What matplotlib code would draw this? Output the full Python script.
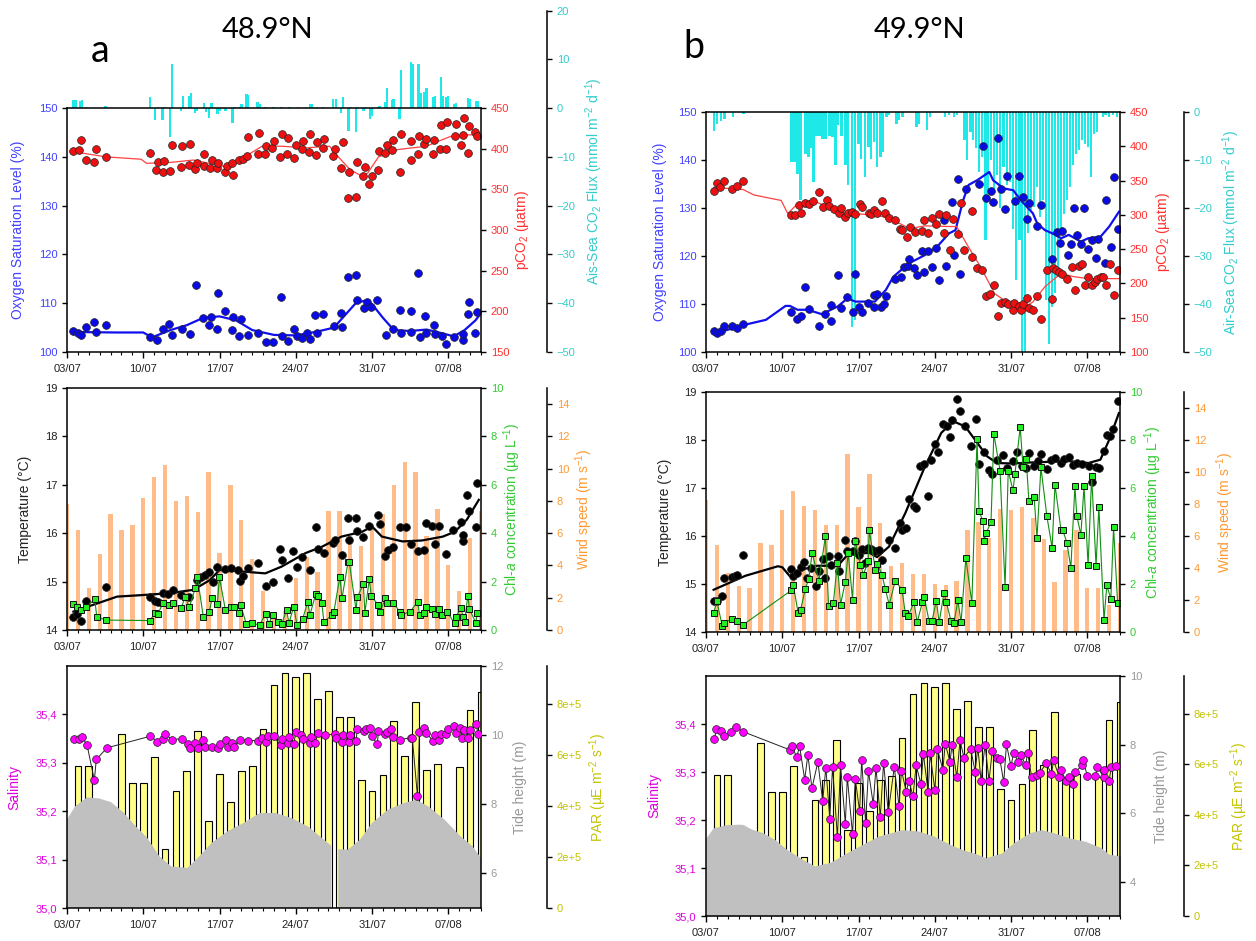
import numpy as np
import matplotlib
matplotlib.use('Agg')
import matplotlib.pyplot as plt
from matplotlib.ticker import MultipleLocator, FuncFormatter

plt.rcParams['font.family'] = ['Liberation Sans', 'DejaVu Sans']
plt.rcParams['mathtext.fontset'] = 'custom'
plt.rcParams['mathtext.rm'] = 'Liberation Sans'
plt.rcParams['mathtext.it'] = 'Liberation Sans:italic'
plt.rcParams['mathtext.default'] = 'regular'
plt.rcParams['axes.linewidth'] = 1.1

W, H = 1256, 941

# ---------------- data (days since 03/07) ----------------
date_ticks = [0, 7, 14, 21, 28, 35]
date_labels = ['03/07', '10/07', '17/07', '24/07', '31/07', '07/08']

# ---- station a, 48.9N ----
o2_a_days = [0.58, 0.98, 1.26, 1.74, 2.5, 2.63, 3.58, 7.6, 8.27, 8.82,
             9.37, 9.63, 10.55, 11.29, 11.88, 12.5, 13.06, 13.25, 13.8, 13.87,
             14.54, 15.17, 15.2, 15.83, 15.94, 16.57, 17.49, 18.23, 18.89, 19.63,
             19.7, 20.26, 20.81, 21.07, 21.55, 21.99, 22.29, 22.8, 22.92, 23.47,
             24.5, 25.17, 25.24, 25.79, 26.53, 26.64, 27.27, 27.5, 27.86, 28.49,
             29.3, 29.96, 30.55, 30.66, 31.59, 31.59, 32.18, 32.36, 32.9, 32.99,
             33.65, 33.8, 34.46, 34.83, 35.5, 36.31, 36.38, 36.8, 36.9, 37.49,
             37.6]
o2_a = [104.4, 103.8, 103.5, 105.1, 106.2, 104.0, 105.5, 103.1, 102.5, 104.8,
        105.8, 103.4, 104.8, 103.7, 113.8, 107.0, 105.5, 107.2, 104.8, 112.1,
        108.4, 104.6, 107.2, 103.2, 106.7, 103.4, 103.9, 102.1, 102.1, 111.2,
        103.2, 102.2, 104.8, 103.2, 102.9, 103.9, 102.7, 107.5, 103.9, 107.7,
        105.3, 107.9, 105.1, 115.4, 115.8, 110.7, 109.1, 110.2, 109.3, 110.6,
        103.4, 104.8, 108.7, 103.9, 108.3, 104.1, 116.2, 103.0, 107.4, 103.9,
        105.6, 103.7, 103.2, 101.6, 103.1, 102.5, 103.6, 107.7, 110.2, 103.9,
        108.2]
o2_a_fit_days = [0.5, 4.5, 7.0, 7.8, 9.5, 11.0, 12.5, 14.0, 15.5, 17.0, 19.0, 21.0, 23.0, 24.5,
                 25.5, 26.5, 27.3, 28.0, 29.0, 30.0, 31.5, 33.0, 34.5, 35.5, 36.5, 37.5, 38.0]
o2_a_fit = [104.1, 104.0, 104.0, 103.0, 104.5, 105.5, 107.0, 107.3, 106.5, 104.5, 103.5, 103.4, 104.2, 105.0,
            107.5, 110.0, 110.5, 109.8, 107.0, 104.5, 104.3, 104.6, 103.8, 103.2, 104.5, 106.5, 108.0]

pco2_a_days = [0.59, 1.14, 1.33, 1.73, 2.47, 2.62, 3.54, 7.60, 8.15, 8.34,
               8.78, 8.86, 9.48, 9.63, 10.48, 10.59, 11.22, 11.33, 11.77, 11.96,
               12.58, 12.58, 13.10, 13.32, 13.80, 13.87, 14.54, 14.72, 15.28, 15.17,
               15.83, 16.20, 16.49, 16.64, 17.49, 17.64, 18.15, 18.23, 18.78, 18.97,
               19.59, 19.70, 20.18, 20.30, 20.81, 21.00, 21.55, 21.66, 22.21, 22.32,
               22.84, 22.95, 23.51, 23.62, 24.43, 24.58, 25.17, 25.35, 25.83, 25.90,
               26.57, 26.61, 27.20, 27.34, 27.75, 27.97, 28.56, 28.60, 29.23, 29.37,
               29.85, 29.93, 30.52, 30.63, 31.55, 31.62, 32.18, 32.32, 32.80, 32.95,
               33.58, 33.69, 34.24, 34.32, 34.76, 34.91, 35.72, 35.65, 36.13, 36.31,
               36.42, 36.79, 36.90, 37.49, 37.64]
pco2_a = [397, 398, 411, 386, 383, 399, 390, 395, 374, 383,
          371, 385, 372, 404, 377, 403, 380, 406, 375, 382,
          393, 379, 376, 386, 376, 382, 371, 379, 368, 382,
          386, 387, 391, 414, 394, 419, 393, 403, 401, 410,
          390, 418, 394, 413, 388, 404, 399, 409, 396, 418,
          392, 408, 401, 412, 391, 400, 376, 408, 339, 371,
          340, 384, 367, 377, 357, 367, 374, 397, 395, 404,
          398, 411, 371, 418, 386, 409, 393, 415, 406, 412,
          393, 411, 399, 429, 400, 433, 430, 416, 404, 417,
          438, 395, 428, 421, 415]
pco2_a_fit_days = [0.3, 3.5, 6.8, 7.3, 9.4, 11.6, 14.5, 16.8, 17.9, 19.7, 21.9, 24.1,
                   24.9, 26.0, 27.1, 27.6, 28.6, 30.4, 33.0, 33.7, 35.2, 36.3, 37.8]
pco2_a_fit = [397, 390, 387, 382, 383, 386, 378, 394, 403, 403, 401, 403,
              390, 374, 366, 370, 390, 399, 403, 407, 415, 417, 417]

flux_a_days = [0.59, 0.77, 1.25, 1.37, 1.73, 3.54, 7.60, 8.08, 8.34, 8.75,
               8.93, 9.45, 9.63, 10.48, 10.66, 11.22, 11.37, 11.77, 11.96, 12.58,
               12.77, 13.06, 13.25, 13.8, 13.99, 14.54, 14.83, 15.2, 15.39, 15.76,
               16.01, 16.46, 16.64, 17.49, 17.68, 18.23, 18.97, 19.7, 20.44, 21.18,
               21.92, 22.29, 22.51, 22.95, 23.51, 24.43, 24.69, 25.17, 25.31, 25.83,
               25.98, 26.53, 26.64, 27.2, 27.34, 27.82, 27.97, 28.56, 28.67, 29.23,
               29.37, 29.85, 29.96, 30.52, 30.63, 31.55, 31.7, 32.25, 32.44, 32.8,
               32.99, 33.58, 33.8, 34.32, 34.46, 34.83, 34.98, 35.57, 35.68, 36.79,
               36.97, 37.53, 37.71]
flux_a = [1.6, 1.6, 1.4, 1.6, 0.2, 0.5, 2.4, -2.4, 0.3, -2.4,
          0.3, -6.0, 9.1, -0.6, 2.5, 2.6, 3.2, -1.0, -0.5, 1.0,
          -0.8, -2.0, 1.0, -1.2, -0.5, -0.5, 0.1, -3.1, 0.2, 0.3,
          0.8, 3.0, 2.7, 1.2, 0.9, 0.2, 0.2, 0.2, 0.2, 0.2,
          0.3, 0.8, 0.9, 0.3, 0.2, 1.9, 1.9, -1.0, 2.4, -4.6,
          0.3, -4.9, 0.3, -0.5, 0.3, -2.2, -1.5, 0.2, 0.5, 1.2,
          4.1, 1.7, 1.9, -2.2, 7.8, 9.5, 9.1, 9.1, 3.1, 3.3,
          4.2, 2.3, 2.5, 6.5, 2.6, 2.3, 2.5, 0.9, 1.0, 2.1,
          1.9, 1.4, 1.4]

temp_a_days = [0.59, 0.89, 1.25, 1.73, 3.54, 7.60, 8.08, 8.34, 8.82, 9.30,
               9.74, 10.48, 11.22, 11.96, 12.32, 12.69, 13.06, 13.43, 13.80, 14.54,
               15.09, 15.65, 15.90, 16.20, 16.57, 17.49, 18.23, 18.89, 19.52, 19.70,
               20.26, 20.74, 21.11, 21.55, 22.29, 22.84, 23.03, 23.58, 24.43, 24.61,
               25.24, 25.79, 25.90, 26.53, 26.61, 27.20, 27.75, 28.56, 28.75, 29.23,
               29.48, 29.96, 30.52, 31.14, 31.59, 32.25, 32.80, 32.99, 33.54, 33.80,
               34.10, 34.83, 35.39, 36.13, 36.31, 36.38, 36.75, 36.90, 37.53, 37.64]
temp_a = [14.26, 14.34, 14.19, 14.59, 14.88, 14.69, 14.59, 14.57, 14.76, 14.74,
          14.83, 14.72, 14.69, 15.03, 15.10, 15.14, 15.19, 15.00, 15.30, 15.26,
          15.28, 15.23, 15.02, 15.12, 15.28, 15.38, 14.90, 15.00, 15.68, 15.45,
          15.07, 15.64, 15.31, 15.50, 15.23, 16.12, 15.67, 15.59, 15.79, 15.86,
          15.54, 16.31, 15.86, 16.32, 16.04, 15.92, 16.14, 16.38, 16.19, 15.53,
          15.66, 15.72, 16.12, 16.12, 15.78, 15.64, 15.66, 16.21, 16.14, 15.78,
          16.14, 15.57, 16.06, 16.24, 15.83, 15.97, 16.78, 16.45, 16.12, 17.03]
temp_a_fit_days = [0.59, 4.6, 6.8, 9.4, 11.6, 13.1, 14.0, 16.0, 18.2, 19.7, 21.9,
                   23.4, 25.2, 27.1, 28.0, 28.9, 30.8, 32.6, 34.5, 35.6, 36.7, 37.8]
temp_a_fit = [14.38, 14.69, 14.72, 14.76, 14.83, 15.03, 15.24, 15.21, 15.17, 15.31, 15.59,
              15.72, 15.93, 16.03, 16.14, 15.93, 15.83, 15.85, 15.93, 16.03, 16.28, 16.69]

chl_a_days = [0.59, 0.89, 1.25, 1.73, 2.55, 2.73, 3.54, 7.60, 8.08, 8.34,
              8.82, 9.37, 9.74, 10.48, 10.85, 11.22, 11.77, 11.96, 12.51, 13.06,
              13.32, 13.80, 13.99, 14.54, 15.09, 15.35, 15.83, 15.94, 16.46, 16.94,
              17.68, 18.23, 18.52, 18.89, 19.34, 19.70, 20.15, 20.37, 20.81, 21.11,
              21.62, 22.10, 22.29, 22.84, 23.03, 23.39, 23.58, 24.32, 24.50, 25.05,
              25.24, 25.79, 25.90, 26.53, 26.64, 27.20, 27.34, 27.75, 27.93, 28.56,
              28.75, 29.23, 29.37, 29.96, 30.52, 30.66, 31.51, 32.18, 32.36, 32.80,
              32.99, 33.54, 33.80, 34.17, 34.39, 34.91, 35.57, 35.68, 36.20, 36.31,
              36.49, 36.79, 36.94, 37.53, 37.64]
chl_a = [1.08, 0.94, 0.83, 0.94, 1.27, 0.55, 0.41, 0.39, 0.69, 0.66,
         1.13, 1.03, 1.10, 0.90, 1.38, 0.94, 1.72, 2.21, 0.55, 0.76,
         1.31, 1.08, 2.17, 0.83, 0.94, 0.94, 0.69, 1.03, 0.25, 0.28,
         0.21, 0.66, 0.25, 0.62, 0.34, 0.23, 0.83, 0.28, 0.97, 0.21,
         0.44, 1.17, 0.62, 1.49, 1.41, 1.10, 0.34, 0.62, 0.76, 2.21,
         1.31, 2.79, 2.83, 0.83, 1.35, 1.89, 0.72, 2.10, 1.41, 1.03,
         0.76, 1.31, 1.13, 1.13, 0.76, 0.62, 0.76, 1.17, 0.62, 0.72,
         0.94, 0.86, 0.66, 0.86, 0.62, 0.73, 0.28, 0.55, 0.90, 0.55,
         0.34, 1.42, 0.86, 0.30, 0.72]

# daily wind speed, 03/07 .. 10/08
wind_a = [7.8, 6.2, 2.6, 4.7, 7.2, 6.2, 6.5, 8.2, 9.5, 10.2,
          8.0, 8.3, 7.3, 9.8, 4.8, 9.0, 6.8, 4.4, 2.4, 1.0,
          1.2, 3.2, 4.5, 3.6, 7.4, 7.4, 5.8, 5.2, 6.4, 7.2,
          9.0, 10.4, 9.8, 5.8, 7.5, 4.0, 2.4, 5.7, 7.4]

sal_a_days = [0.66, 1.11, 1.36, 1.84, 2.51, 2.69, 3.68, 7.66, 8.29, 8.84,
              8.99, 9.65, 10.57, 11.13, 11.31, 11.79, 12.05, 12.45, 12.71, 13.34,
              13.82, 14.0, 14.55, 14.74, 15.18, 15.36, 15.92, 16.58, 17.5, 17.87,
              18.24, 18.42, 18.98, 19.6, 19.71, 20.27, 20.34, 20.82, 21.0, 21.44,
              21.67, 22.29, 22.36, 22.77, 23.03, 23.69, 24.61, 24.69, 25.24, 25.35,
              25.87, 25.98, 26.53, 26.64, 27.27, 27.49, 27.82, 27.97, 28.48, 28.59,
              29.22, 29.4, 29.73, 29.92, 30.58, 31.58, 31.69, 32.17, 32.35, 32.79,
              32.98, 33.6, 33.82, 34.19, 34.34, 34.82, 34.93, 35.48, 35.67, 36.11,
              36.29, 36.48, 36.85, 36.96, 37.58, 37.69]
sal_a = [35.350, 35.350, 35.354, 35.337, 35.264, 35.307, 35.331, 35.355, 35.344, 35.350,
         35.360, 35.348, 35.350, 35.338, 35.331, 35.341, 35.331, 35.347, 35.333, 35.333,
         35.331, 35.339, 35.347, 35.332, 35.341, 35.333, 35.348, 35.346, 35.346, 35.351,
         35.343, 35.355, 35.355, 35.336, 35.350, 35.341, 35.354, 35.339, 35.363, 35.357,
         35.350, 35.341, 35.354, 35.340, 35.361, 35.357, 35.360, 35.351, 35.343, 35.357,
         35.343, 35.357, 35.345, 35.369, 35.366, 35.369, 35.371, 35.355, 35.339, 35.365,
         35.360, 35.363, 35.370, 35.354, 35.348, 35.352, 35.352, 35.231, 35.363, 35.372,
         35.362, 35.345, 35.357, 35.347, 35.359, 35.359, 35.370, 35.377, 35.361, 35.371,
         35.352, 35.368, 35.352, 35.368, 35.381, 35.360]

# high-tide envelope (m); nan = gap in the record
tide_a_days = [0, 0.74, 1.84, 2.95, 4.05, 5.16, 6.26, 7.37, 8.47, 9.58, 11.05, 12.16,
               13.26, 14.74, 16.21, 17.69, 19.16, 20.63, 22.11, 23.58, 24.25, 24.5, 24.9,
               25.79, 26.9, 28.0, 29.48, 30.95, 32.06, 33.16, 34.64, 36.11, 37.21, 38.1]
tide_a = [7.56, 7.94, 8.2, 8.17, 8.06, 7.77, 7.38, 7.03, 6.5, 6.2, 6.16, 6.5,
          6.88, 7.22, 7.46, 7.75, 7.75, 7.6, 7.36, 6.98, 6.8, np.nan, 6.7,
          6.69, 6.98, 7.46, 7.85, 8.04, 8.13, 7.94, 7.56, 7.08, 6.79, 6.4]

# daily PAR, 04/07 .. 10/08 (same record for both panels)
par = [557e3, 557e3, 360e3, 330e3, 685e3, 489e3, 489e3, 593e3, 232e3, 458e3,
       538e3, 695e3, 341e3, 525e3, 417e3, 538e3, 556e3, 704e3, 877e3, 923e3,
       908e3, 923e3, 820e3, 851e3, 748e3, 748e3, 502e3, 459e3, 521e3, 736e3,
       597e3, 807e3, 542e3, 564e3, 150e3, 552e3, 776e3, 846e3]

# ---- station b, 49.9N ----
o2_b_days = [0.73, 0.99, 1.36, 1.69, 2.38, 2.82, 3.44, 7.84, 8.39, 8.68,
             9.12, 9.49, 10.41, 10.96, 11.51, 11.51, 12.13, 12.42, 12.97, 13.52,
             13.7, 14.07, 14.33, 14.91, 15.43, 15.43, 15.72, 16.09, 16.34, 16.56,
             17.37, 17.92, 18.21, 18.54, 18.65, 19.13, 19.38, 19.82, 20.04, 20.41,
             20.74, 21.14, 21.4, 21.84, 22.06, 22.61, 22.76, 23.12, 23.34, 23.85,
             25.1, 25.39, 25.72, 26.16, 26.35, 26.79, 27.08, 27.45, 27.63, 28.36,
             28.73, 29.1, 29.46, 29.64, 30.38, 30.78, 31.77, 32.21, 32.5, 32.69,
             33.24, 33.49, 33.79, 34.04, 34.41, 34.7, 35.07, 35.4, 35.8, 35.95,
             36.61, 36.72, 37.16, 37.41, 37.78]
o2_b = [104.3, 103.9, 104.4, 105.5, 105.5, 105.0, 105.9, 108.4, 106.9, 107.4,
        113.6, 109.0, 105.5, 107.9, 109.8, 106.4, 116.0, 109.1, 111.4, 108.4,
        116.3, 109.3, 108.3, 110.2, 111.9, 109.3, 112.0, 109.3, 110.0, 111.7,
        115.3, 115.7, 117.8, 118.0, 119.3, 117.4, 116.0, 121.0, 116.7, 121.0,
        117.8, 121.6, 115.0, 127.6, 118.0, 131.2, 120.2, 136.1, 116.3, 133.9,
        135.0, 142.9, 132.0, 133.5, 131.3, 144.6, 133.9, 129.8, 136.7, 131.4,
        136.7, 132.2, 127.8, 131.1, 126.3, 130.7, 119.3, 125.1, 122.8, 125.3,
        120.2, 122.4, 130.0, 124.4, 122.5, 130.0, 121.4, 123.3, 119.6, 123.5,
        118.5, 131.6, 121.8, 136.5, 125.7]
o2_b_fit_days = [0.73, 3.6, 5.5, 7.3, 7.7, 8.4, 9.1, 9.9, 10.6, 11.1,
                 12.1, 13.0, 13.7, 15.0, 15.5, 16.5, 17.2, 18.65, 20.1, 21.2,
                 22.3, 22.9, 23.6, 24.1, 24.9, 26.0, 26.35, 27.3, 28.2, 28.9,
                 30.0, 30.4, 31.1, 31.8, 32.6, 33.3, 34.4, 35.1, 36.2, 37.0, 37.9]
o2_b_fit = [103.8, 105.7, 106.7, 109.6, 109.6, 108.8, 108.8, 108.4, 107.9, 108.4,
            109.5, 111.2, 110.5, 110.5, 110.5, 112.9, 115.7, 118.5, 120.2, 121.9,
            124.7, 125.4, 131.6, 134.8, 135.8, 137.5, 135.8, 134.1, 133.7, 131.6,
            128.9, 126.8, 125.4, 124.7, 123.7, 124.4, 123.0, 123.7, 124.0, 126.1, 129.2]

pco2_b_days = [0.73, 0.99, 1.32, 1.69, 2.42, 2.82, 3.44, 7.84, 8.13, 8.5,
               8.68, 9.12, 9.42, 9.86, 10.41, 10.77, 11.07, 11.32, 11.73, 12.17,
               12.42, 12.79, 13.05, 13.41, 13.7, 14.14, 14.33, 14.99, 15.1, 15.43,
               15.72, 16.16, 16.45, 16.82, 17.37, 17.85, 18.03, 18.47, 18.76, 19.2,
               19.86, 20.01, 20.41, 20.74, 21.11, 21.4, 21.88, 22.06, 22.43, 22.68,
               23.16, 23.45, 23.71, 24.37, 24.44, 24.92, 25.36, 25.72, 26.05, 26.42,
               26.79, 27.12, 27.48, 27.74, 28.18, 28.29, 28.73, 28.91, 29.1, 29.5,
               29.64, 30.01, 30.38, 30.74, 31.29, 31.77, 31.84, 32.14, 32.39, 32.69,
               33.13, 33.6, 33.86, 34.23, 34.48, 34.78, 35.07, 35.4, 35.69, 35.87,
               36.24, 36.42, 36.72, 37.08, 37.41, 37.78]
pco2_b = [335, 346, 340, 349, 338, 342, 350, 300, 300, 314,
          303, 318, 316, 320, 333, 312, 321, 313, 309, 302,
          310, 297, 302, 304, 301, 316, 311, 302, 301, 307,
          302, 320, 302, 295, 292, 280, 278, 268, 282, 275,
          276, 292, 274, 296, 286, 301, 273, 300, 249, 294,
          272, 318, 249, 239, 305, 223, 220, 181, 185, 197,
          152, 172, 173, 170, 161, 172, 167, 161, 170, 179,
          164, 161, 181, 148, 219, 178, 222, 220, 217, 214,
          206, 224, 190, 225, 229, 198, 210, 198, 202, 206,
          210, 210, 198, 228, 183, 219]
pco2_b_fit_days = [0.73, 3.4, 4.4, 6.9, 7.5, 8.4, 10.2, 12.8, 15.7, 17.2, 18.7, 20.1, 22.3,
                   23.0, 24.1, 25.2, 26.5, 27.8, 29.3, 30.0, 31.1, 32.6, 33.7, 35.1, 37.9]
pco2_b_fit = [340, 337, 329, 321, 302, 316, 318, 302, 300, 292, 280, 284, 283,
              283, 253, 224, 185, 171, 166, 173, 195, 215, 210, 207, 207]

flux_b_days = [0.73, 0.99, 1.36, 1.69, 2.46, 3.44, 7.84, 8.13, 8.39, 8.68,
               9.12, 9.42, 9.67, 9.86, 10.15, 10.41, 10.7, 10.96, 11.32, 11.62,
               11.87, 12.13, 12.42, 12.79, 13.05, 13.41, 13.7, 14.0, 14.25, 14.62,
               14.91, 15.17, 15.43, 15.72, 16.01, 16.27, 16.56, 16.82, 17.48, 17.74,
               18.03, 19.31, 19.57, 20.3, 20.56, 21.95, 22.32, 22.76, 23.05, 23.71,
               23.96, 24.26, 24.51, 24.81, 25.06, 25.36, 25.65, 25.91, 26.16, 26.46,
               26.71, 27.01, 27.3, 27.63, 27.92, 28.18, 28.47, 28.77, 29.02, 29.28,
               29.57, 29.83, 30.12, 30.38, 30.67, 30.93, 31.22, 31.48, 31.77, 32.03,
               32.32, 32.58, 32.87, 33.13, 33.42, 33.68, 33.97, 34.23, 34.52, 34.78,
               35.07, 35.32, 35.62, 35.87, 36.42, 36.68, 36.97, 37.34, 37.71]
flux_b = [-4.0, -2.4, -1.9, -1.4, -1.0, -0.35, -10.4, -10.4, -13.0, -18.4,
          -8.7, -9.4, -7.6, -14.6, -5.1, -4.9, -5.6, -5.6, -5.1, -5.2,
          -11.1, -2.8, -4.9, -11.1, -15.3, -44.7, -43.4, -6.6, -9.7, -13.5,
          -7.3, -9.7, -6.3, -11.5, -9.4, -8.3, -1.0, -0.7, -2.4, -1.7,
          -1.0, -3.1, -2.4, -3.8, -1.0, -1.0, -0.7, -1.0, -0.7, -5.9,
          -10.1, -4.2, -5.9, -7.6, -12.5, -9.4, -26.7, -17.0, -10.1, -16.7,
          -13.2, -20.1, -11.5, -15.3, -14.6, -24.3, -35.1, -26.7, -50, -50,
          -25.3, -20.5, -19.8, -15.6, -21.9, -18.4, -39.2, -48.3, -40.6, -37.8,
          -32.3, -25.3, -21.2, -18.4, -15.6, -11.1, -8.7, -8.0, -5.9, -6.6,
          -7.3, -13.5, -4.5, -4.2, -1.0, -0.7, -1.0, -0.7, -1.0]

temp_b_days = [0.7, 0.99, 1.5, 1.69, 2.35, 2.64, 2.89, 3.44, 7.84, 8.02,
               8.32, 8.68, 9.01, 9.31, 9.67, 10.11, 10.41, 10.77, 10.96, 11.25,
               11.51, 12.13, 12.24, 12.79, 12.97, 13.45, 13.7, 14.07, 14.33, 14.62,
               14.88, 15.17, 15.54, 15.9, 16.16, 16.82, 17.37, 17.85, 18.03, 18.39,
               18.65, 19.09, 19.31, 19.68, 19.98, 20.41, 20.67, 21.03, 21.29, 21.77,
               22.13, 22.43, 22.61, 23.05, 23.34, 23.78, 24.33, 24.81, 25.06, 25.54,
               25.98, 26.27, 26.71, 27.26, 27.63, 28.18, 28.55, 29.02, 29.39, 29.64,
               30.12, 30.49, 30.74, 31.29, 31.66, 32.03, 32.58, 32.87, 33.31, 33.68,
               34.04, 34.52, 35.14, 35.43, 35.8, 36.06, 36.53, 36.79, 37.08, 37.34,
               37.78]
temp_b = [14.64, 14.65, 14.74, 15.13, 15.14, 15.17, 15.19, 15.60, 15.31, 15.16,
          15.22, 15.35, 15.45, 15.13, 15.33, 14.95, 15.28, 15.52, 15.13, 15.58,
          15.39, 15.59, 15.28, 15.92, 15.68, 15.68, 15.89, 15.61, 15.72, 15.44,
          15.74, 15.72, 15.69, 15.70, 15.49, 15.91, 15.76, 16.28, 16.12, 16.17,
          16.77, 16.62, 16.58, 17.45, 17.49, 16.84, 17.58, 17.92, 17.76, 18.34,
          18.30, 18.06, 18.41, 18.86, 18.60, 18.30, 17.88, 18.44, 17.51, 17.76,
          17.38, 17.30, 17.59, 17.69, 17.42, 17.56, 17.76, 17.45, 17.42, 17.72,
          17.45, 17.56, 17.71, 17.40, 17.59, 17.63, 17.52, 17.60, 17.65, 17.47,
          17.53, 17.49, 17.45, 17.13, 17.44, 17.42, 17.78, 18.11, 18.09, 18.23,
          18.81]
temp_b_fit_days = [0.7, 3.6, 6.6, 7.0, 7.7, 8.8, 10.2, 12.1, 13.0, 15.0, 15.7, 16.8, 18.3, 20.1,
                   21.6, 22.7, 23.8, 24.9, 25.8, 26.7, 28.2, 29.6, 33.3, 35.1, 36.2, 37.0, 37.9]
temp_b_fit = [14.88, 15.17, 15.37, 15.35, 15.16, 15.30, 15.38, 15.38, 15.61, 15.65, 15.56, 15.78, 16.48, 17.45,
              18.15, 18.39, 18.28, 17.94, 17.66, 17.52, 17.51, 17.53, 17.56, 17.52, 17.59, 18.0, 18.56]

chl_b_days = [0.7, 0.99, 1.5, 1.69, 2.35, 2.82, 3.44, 7.84, 8.02, 8.46,
              8.68, 9.12, 9.42, 9.75, 10.37, 10.96, 11.25, 11.69, 12.06, 12.35,
              12.79, 13.05, 13.45, 13.7, 14.18, 14.44, 14.88, 14.99, 15.54, 15.72,
              16.16, 16.45, 16.82, 17.37, 17.99, 18.29, 18.54, 19.09, 19.38, 19.86,
              20.04, 20.48, 20.74, 21.14, 21.4, 21.84, 22.06, 22.5, 22.76, 23.12,
              23.41, 23.85, 24.4, 24.88, 25.06, 25.43, 25.54, 25.72, 26.16, 26.42,
              26.99, 27.45, 27.74, 28.18, 28.36, 28.84, 29.1, 29.39, 29.64, 30.12,
              30.38, 30.74, 31.29, 31.77, 32.03, 32.58, 32.76, 33.13, 33.49, 33.86,
              34.04, 34.41, 34.7, 35.07, 35.4, 35.8, 36.06, 36.53, 36.79, 37.16,
              37.41, 37.78]
chl_b = [0.79, 1.28, 0.24, 0.38, 0.54, 0.44, 0.31, 1.74, 1.94, 0.79,
         0.93, 1.79, 2.21, 3.29, 2.14, 3.99, 1.10, 1.21, 2.88, 1.14,
         2.10, 3.29, 1.35, 3.78, 2.81, 2.39, 2.94, 4.24, 2.60, 2.85,
         2.39, 1.79, 1.14, 2.14, 1.76, 0.79, 0.65, 1.24, 0.40, 1.24,
         1.44, 0.44, 0.44, 1.31, 0.40, 1.63, 1.24, 0.44, 0.38, 1.32,
         0.40, 3.08, 1.21, 8.04, 5.03, 4.61, 3.81, 4.13, 4.58, 8.26,
         6.72, 1.88, 6.72, 5.90, 6.60, 8.54, 6.86, 7.21, 5.44, 5.61,
         3.92, 6.86, 4.82, 3.50, 6.14, 4.26, 4.24, 3.71, 2.67, 6.07,
         4.82, 4.06, 6.07, 2.78, 6.49, 2.76, 5.21, 0.51, 1.94, 1.38,
         4.36, 1.21]

wind_b = [8.27, 5.42, 3.69, 2.85, 2.75, 5.56, 5.42, 7.65, 8.83, 7.9,
          7.6, 6.7, 6.7, 11.1, 7.8, 9.9, 6.8, 4.1, 4.3, 3.6,
          3.6, 3.0, 2.95, 3.2, 6.35, 6.85, 5.9, 7.7, 7.65, 7.8,
          7.1, 5.8, 3.1, 5.1, 6.35, 2.75, 2.75, 1.7, 5.56]

sal_b_days = [0.77, 0.95, 1.39, 1.64, 2.3, 2.74, 3.4, 7.71, 7.89, 8.33,
              8.59, 9.06, 9.35, 9.72, 10.27, 10.71, 11.0, 11.36, 11.62, 12.06,
              12.35, 12.79, 12.97, 13.45, 13.7, 14.1, 14.29, 14.65, 14.91, 15.35,
              15.6, 16.0, 16.3, 16.73, 17.28, 17.72, 17.94, 18.38, 18.63, 19.0,
              19.29, 19.73, 19.95, 20.39, 20.57, 21.01, 21.23, 21.74, 21.96, 22.4,
              22.58, 23.02, 23.31, 23.68, 24.3, 24.7, 24.95, 25.25, 25.61, 25.98,
              26.27, 26.71, 26.96, 27.33, 27.58, 27.99, 28.24, 28.68, 28.9, 29.34,
              29.52, 29.89, 30.36, 30.62, 31.24, 31.71, 31.9, 32.44, 32.55, 33.07,
              33.36, 33.72, 33.91, 34.53, 34.64, 35.0, 35.73, 35.91, 36.53, 36.57,
              37.01, 37.19, 37.67]
sal_b = [35.368, 35.389, 35.385, 35.375, 35.384, 35.394, 35.384, 35.346, 35.354, 35.331,
         35.354, 35.284, 35.336, 35.266, 35.321, 35.239, 35.309, 35.203, 35.311, 35.164,
         35.314, 35.192, 35.290, 35.170, 35.286, 35.218, 35.326, 35.194, 35.302, 35.233,
         35.309, 35.206, 35.319, 35.216, 35.310, 35.229, 35.303, 35.259, 35.282, 35.249,
         35.314, 35.275, 35.338, 35.258, 35.339, 35.262, 35.348, 35.305, 35.359, 35.321,
         35.357, 35.289, 35.366, 35.330, 35.348, 35.301, 35.351, 35.282, 35.357, 35.282,
         35.343, 35.330, 35.328, 35.279, 35.358, 35.312, 35.340, 35.321, 35.336, 35.314,
         35.340, 35.290, 35.293, 35.297, 35.319, 35.295, 35.324, 35.289, 35.304, 35.282,
         35.290, 35.275, 35.300, 35.314, 35.324, 35.291, 35.291, 35.310, 35.289, 35.305,
         35.282, 35.310, 35.312]

tide_b_days = [0, 0.66, 1.94, 3.4, 4.13, 5.22, 6.32, 7.42, 8.88, 9.98, 11.44, 12.9,
               14.36, 15.82, 18.0, 19.47, 20.93, 22.39, 23.49, 24.59, 25.68, 27.15,
               28.24, 29.7, 30.8, 31.9, 33.36, 34.82, 36.28, 37.01, 38.1]
tide_b = [5.28, 5.57, 5.67, 5.67, 5.54, 5.43, 5.23, 4.94, 4.65, 4.46, 4.57, 4.84,
          5.09, 5.33, 5.52, 5.48, 5.33, 5.09, 4.94, 4.84, 4.70, 4.84,
          5.14, 5.43, 5.52, 5.43, 5.28, 5.18, 4.99, 4.80, 4.75]

# ---------------- colours ----------------
O2_C, O2_T = '#0a0ae6', '#4040ff'
PC_C, PC_T = '#ee1010', '#ff3030'
FX_C, FX_T = '#1ee8e8', '#33cccc'
CH_C, CH_T = '#22ee22', '#33cc33'
WD_C, WD_T = '#ffbb88', '#ff9933'
SA_C, SA_T = '#ff00ff', '#dd00dd'
TD_C, TD_T = '#c0c0c0', '#999999'
PR_C, PR_T = '#ffff88', '#c4c400'

fig = plt.figure(figsize=(W / 100, H / 100), dpi=100)


def box(l, t, r, b):
    return [l / W, 1 - b / H, (r - l) / W, (b - t) / H]


def new_ax(l, t, r, b):
    ax = fig.add_axes(box(l, t, r, b))
    ax.set_facecolor('none')
    ax.set_xlim(0, 38)
    return ax


def base_ax(l, t, r, b, color):
    ax = new_ax(l, t, r, b)
    ax.spines['right'].set_visible(False)
    ax.set_xticks(date_ticks)
    ax.set_xticklabels(date_labels)
    ax.xaxis.set_minor_locator(MultipleLocator(1))
    ax.tick_params(axis='x', which='major', direction='out', length=4, width=1,
                   labelsize=8, labelcolor='#222222', pad=5)
    ax.tick_params(axis='x', which='minor', direction='out', length=2.5, width=0.8)
    ax.tick_params(axis='y', direction='out', length=3.5, width=1, labelsize=8,
                   labelcolor=color)
    return ax


def side_ax(l, t, r, b, pos, color):
    ax = new_ax(l, t, r, b)
    for s in ('left', 'top', 'bottom'):
        ax.spines[s].set_visible(False)
    ax.spines['right'].set_position(('axes', pos))
    ax.yaxis.tick_right()
    ax.xaxis.set_visible(False)
    ax.tick_params(axis='y', direction='out', length=3.5, width=1, labelsize=8,
                   labelcolor=color)
    return ax


def vlabel(x, y, text, color):
    fig.text(x / W, 1 - y / H, text, rotation=90, ha='center', va='center',
             color=color, fontsize=10)


sal_fmt = FuncFormatter(lambda v, p: f"{v:.1f}".replace('.', ','))
par_fmt = FuncFormatter(lambda v, p: '0' if v == 0 else f"{v / 1e5:.0f}e+5")
dot = dict(ls='none', marker='o', ms=5.6, mec='#222222', mew=0.5)


def panel(L, R, tops, third_x, flux_top, flux_lim, flux_ticks, d):
    third = (third_x - L) / (R - L)
    (t1, b1), (t2, b2), (t3, b3) = tops

    # top: O2, pCO2, air-sea flux
    axf = side_ax(L, flux_top, R, b1, third, FX_T)
    axf.bar(d['flux_days'], d['flux'], width=0.22, color=FX_C, linewidth=0)
    axf.set_ylim(*flux_lim)
    axf.set_yticks(flux_ticks)
    ax = base_ax(L, t1, R, b1, O2_T)
    ax.set_ylim(100, 150)
    ax.set_yticks(range(100, 151, 10))
    ax.plot(d['o2_fit_days'], d['o2_fit'], color='#1010ee', lw=1.6)
    ax.plot(d['o2_days'], d['o2'], color=O2_C, **dot)
    axp = side_ax(L, t1, R, b1, 1.0, PC_T)
    axp.set_ylim(*d['pco2_lim'])
    axp.set_yticks(range(d['pco2_lim'][0], 451, 50))
    axp.plot(d['pco2_fit_days'], d['pco2_fit'], color='#ff4040', lw=0.9)
    axp.plot(d['pco2_days'], d['pco2'], color=PC_C, **dot)

    # middle: temperature, chl-a, wind
    axw = side_ax(L, t2, R, b2, third, WD_T)
    axw.bar(np.arange(len(d['wind'])), d['wind'], width=0.4, color=WD_C, linewidth=0)
    axw.set_ylim(0, 15)
    axw.set_yticks(range(0, 15, 2))
    axt = base_ax(L, t2, R, b2, '#222222')
    axt.set_ylim(14, 19)
    axt.set_yticks(range(14, 20))
    axt.plot(d['temp_fit_days'], d['temp_fit'], color='black', lw=1.6)
    axt.plot(d['temp_days'], d['temp'], color='black', **dot)
    axc = side_ax(L, t2, R, b2, 1.0, CH_T)
    axc.set_ylim(0, 10)
    axc.set_yticks(range(0, 11, 2))
    axc.plot(d['chl_days'], d['chl'], color='#0f8f0f', lw=0.8)
    axc.plot(d['chl_days'], d['chl'], ls='none', marker='s', ms=5, color=CH_C,
             mec='#111111', mew=0.7)

    # bottom: salinity, tide, PAR
    axr = side_ax(L, t3, R, b3, third, PR_T)
    axr.bar(np.arange(1, len(par) + 1), par, width=0.62, color=PR_C,
            edgecolor='black', linewidth=0.8)
    axr.set_ylim(0, 9.5e5)
    axr.set_yticks(np.arange(0, 8.1e5, 2e5))
    axr.yaxis.set_major_formatter(par_fmt)
    axd = side_ax(L, t3, R, b3, 1.0, TD_T)
    lo = d['tide_lim'][0]
    axd.fill_between(d['tide_days'], lo, d['tide'], color=TD_C, linewidth=0)
    axd.set_ylim(*d['tide_lim'])
    axd.set_yticks(range(lo + 1, d['tide_lim'][1] + 1, 2))
    axs = base_ax(L, t3, R, b3, SA_T)
    axs.set_ylim(35.0, 35.5)
    axs.set_yticks([35.0, 35.1, 35.2, 35.3, 35.4])
    axs.yaxis.set_major_formatter(sal_fmt)
    axs.plot(d['sal_days'], d['sal'], color='#222222', lw=0.7)
    axs.plot(d['sal_days'], d['sal'], color=SA_C, **dot)


panel(67, 481, [(108, 352), (388, 630), (666, 908)], 547, 10.7, (-50, 20),
      range(-50, 21, 10),
      dict(flux_days=flux_a_days, flux=flux_a, o2_days=o2_a_days, o2=o2_a,
           o2_fit_days=o2_a_fit_days, o2_fit=o2_a_fit, pco2_days=pco2_a_days,
           pco2=pco2_a, pco2_fit_days=pco2_a_fit_days, pco2_fit=pco2_a_fit,
           pco2_lim=(150, 450), wind=wind_a, temp_days=temp_a_days, temp=temp_a,
           temp_fit_days=temp_a_fit_days, temp_fit=temp_a_fit, chl_days=chl_a_days,
           chl=chl_a, tide_days=tide_a_days, tide=tide_a, tide_lim=(5, 12),
           sal_days=sal_a_days, sal=sal_a))

panel(706, 1120, [(112, 352), (392, 632), (676, 916)], 1184, 112, (-50, 0),
      range(-50, 1, 10),
      dict(flux_days=flux_b_days, flux=flux_b, o2_days=o2_b_days, o2=o2_b,
           o2_fit_days=o2_b_fit_days, o2_fit=o2_b_fit, pco2_days=pco2_b_days,
           pco2=pco2_b, pco2_fit_days=pco2_b_fit_days, pco2_fit=pco2_b_fit,
           pco2_lim=(100, 450), wind=wind_b, temp_days=temp_b_days, temp=temp_b,
           temp_fit_days=temp_b_fit_days, temp_fit=temp_b_fit, chl_days=chl_b_days,
           chl=chl_b, tide_days=tide_b_days, tide=tide_b, tide_lim=(3, 10),
           sal_days=sal_b_days, sal=sal_b))

# axis titles
vlabel(18, 230, 'Oxygen Saturation Level (%)', O2_T)
vlabel(522, 230, 'pCO$_2$ (µatm)', PC_T)
vlabel(594, 181, 'Ais-Sea CO$_2$ Flux (mmol m$^{-2}$ d$^{-1}$)', FX_T)
vlabel(25, 509, 'Temperature (°C)', '#222222')
vlabel(512, 509, 'Chl-$\\mathit{a}$ concentration (µg L$^{-1}$)', CH_T)
vlabel(584, 509, 'Wind speed (m s$^{-1}$)', WD_T)
vlabel(14, 787, 'Salinity', SA_T)
vlabel(520, 787, 'Tide height (m)', TD_T)
vlabel(598, 787, 'PAR (µE m$^{-2}$ s$^{-1}$)', PR_T)

vlabel(660, 232, 'Oxygen Saturation Level (%)', O2_T)
vlabel(1163, 232, 'pCO$_2$ (µatm)', PC_T)
vlabel(1231, 232, 'Air-Sea CO$_2$ Flux (mmol m$^{-2}$ d$^{-1}$)', FX_T)
vlabel(665, 512, 'Temperature (°C)', '#222222')
vlabel(1153, 512, 'Chl-$\\mathit{a}$ concentration (µg L$^{-1}$)', CH_T)
vlabel(1225, 512, 'Wind speed (m s$^{-1}$)', WD_T)
vlabel(654, 796, 'Salinity', SA_T)
vlabel(1161, 796, 'Tide height (m)', TD_T)
vlabel(1239, 796, 'PAR (µE m$^{-2}$ s$^{-1}$)', PR_T)

big = ['Lato', 'DejaVu Sans']
fig.text(267 / W, 1 - 38 / H, '48.9°N', ha='center', va='baseline', fontsize=21, family=big)
fig.text(100 / W, 1 - 62 / H, 'a', ha='center', va='baseline', fontsize=27, family=big)
fig.text(919 / W, 1 - 38 / H, '49.9°N', ha='center', va='baseline', fontsize=21, family=big)
fig.text(694 / W, 1 - 58 / H, 'b', ha='center', va='baseline', fontsize=27, family=big)

fig.savefig('out.png', dpi=100)
